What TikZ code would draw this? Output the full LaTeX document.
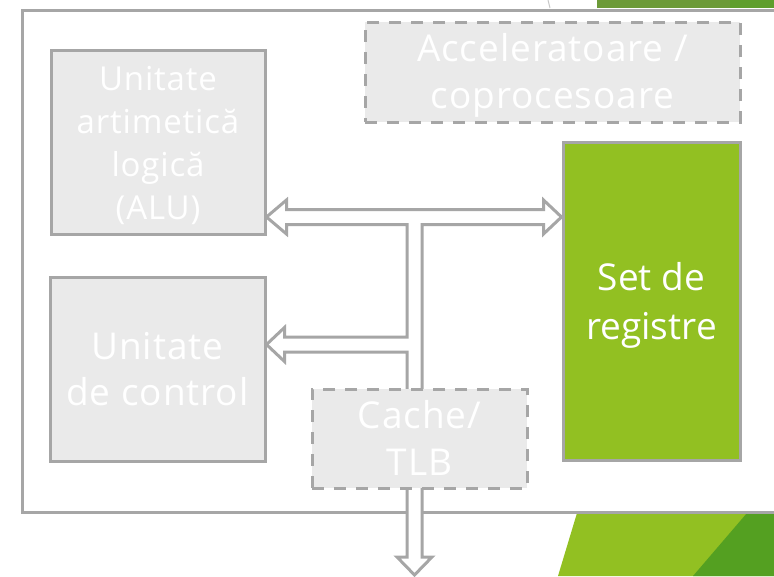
\documentclass[tikz,border=0pt]{standalone}
\usepackage{fontspec}
\setmainfont{Open Sans}
\newfontfamily\spacedsans[LetterSpace=2.5]{Open Sans}
\usetikzlibrary{calc}
\definecolor{framegray}{HTML}{A6A6A6}
\definecolor{boxfill}{HTML}{EAEAEA}
\definecolor{leaf}{HTML}{92C022}
\definecolor{darkleaf}{HTML}{54A021}
\definecolor{bandgreen}{HTML}{6C9A38}
\definecolor{bandbright}{HTML}{5E9E2C}
\definecolor{hairgray}{HTML}{C8C8C8}

% centred lines, set a little lower than the geometric middle
\newcommand{\unitlines}[1]{\raisebox{-4pt}[\height][\depth]{%
  \begin{tabular}{@{}c@{}}#1\end{tabular}}}

\tikzset{
  unit/.style={draw=framegray, line width=3pt, fill=boxfill, text=white,
    inner sep=0pt},
  optional/.style={unit, dash pattern=on 12pt off 10pt},
  smallfont/.style={font=\spacedsans\fontsize{33}{43}\selectfont},
  grayfont/.style={font=\spacedsans\fontsize{37}{47}\selectfont},
  regfont/.style={font=\fontsize{37}{49}\selectfont},
  bus/.style={draw=framegray, line width=3pt, fill=white, line join=miter},
}

\begin{document}
\begin{tikzpicture}[x=1pt, y=-1pt]
  \useasboundingbox (0,0) rectangle (774,576);
  \clip (0,0) rectangle (774,576);

  % slide decoration behind the frame
  \fill[bandgreen] (597,0) rectangle (730,8);
  \fill[bandbright] (730,0) rectangle (774,8);
  \draw[hairgray, line width=1pt] (548,0) -- (550,8);
  \fill[leaf] (577,513) -- (790,513) -- (790,576) -- (558,576) -- cycle;
  \fill[darkleaf] (747,513) -- (790,513) -- (790,576) -- (693,576) -- cycle;

  % processor frame
  \draw[framegray, line width=3pt, fill=white] (22,10) rectangle (800,512);

  % functional units
  \node[unit, smallfont, minimum width=214pt, minimum height=184pt]
    (alu) at (158,142) {\unitlines{Unitate\\artimetică\\logică\\(ALU)}};
  \node[unit, font=\spacedsans\fontsize{37}{46}\selectfont,
    minimum width=215pt, minimum height=184pt]
    (ctl) at (157.5,369) {\unitlines{Unitate\\de control}};
  \node[unit, fill=leaf, regfont, minimum width=177pt, minimum height=318pt]
    (reg) at (651.5,301) {\unitlines{Set de\\registre}};
  \node[optional, grayfont, minimum width=375pt, minimum height=100pt]
    (acc) at (552.5,72) {\unitlines{Acceleratoare /\\coprocesoare}};

  % internal bus levels
  \coordinate (topbus) at (0,217);
  \coordinate (ctlbus) at (0,344.5);
  \coordinate (stem) at (414.5,0);

  % hollow block arrows of the internal bus
  \draw[bus]
    (alu.east |- topbus) -- ++(20,-17) -- ++(0,9.5)
    -- ($(reg.west |- topbus)+(-18,-7.5)$) -- ++(0,-9.5)
    -- (reg.west |- topbus)
    -- ++(-18,17) -- ++(0,-9.5)
    -- ($(stem |- topbus)+(7.5,7.5)$) -- (422,557) -- ++(10,0)
    -- (414.5,575) -- (397,557) -- ++(10,0)
    -- ($(stem |- ctlbus)+(-7.5,7.5)$)
    -- ($(ctl.east |- ctlbus)+(18,7.5)$) -- ++(0,9.5)
    -- (ctl.east |- ctlbus)
    -- ++(18,-17) -- ++(0,9.5)
    -- ($(stem |- ctlbus)+(-7.5,-7.5)$)
    -- ($(stem |- topbus)+(-7.5,7.5)$)
    -- ($(alu.east |- topbus)+(20,7.5)$) -- ++(0,9.5) -- cycle;

  % cache sits on top of the bus stem
  \node[optional, grayfont, minimum width=215pt, minimum height=99pt]
    (cache) at (419.5,438.5) {\unitlines{Cache/\\TLB}};
\end{tikzpicture}
\end{document}
